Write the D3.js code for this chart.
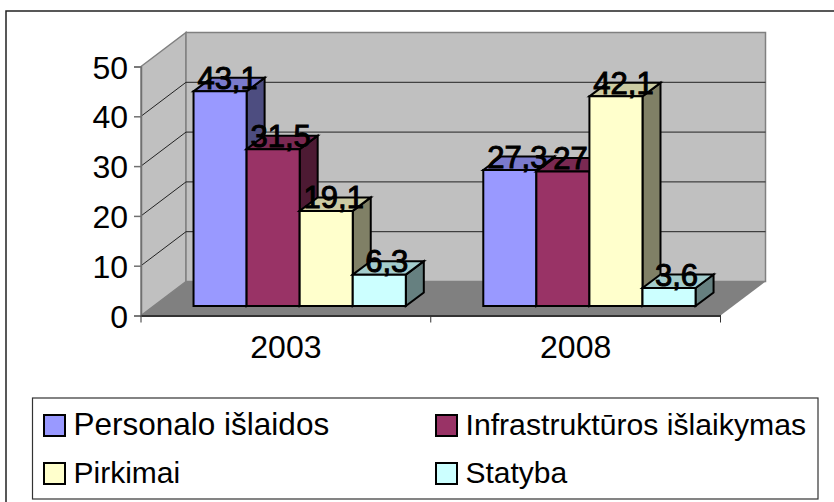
<!DOCTYPE html>
<html>
<head>
<meta charset="utf-8">
<script src="https://cdn.jsdelivr.net/npm/d3@7/dist/d3.min.js"></script>
<style>
html, body { margin: 0; padding: 0; background: #fff; }
text { font-family: "Liberation Sans", Arial, sans-serif; fill: #000; }
</style>
</head>
<body>
<div id="chart"></div>
<script>
var categories = ["2003", "2008"];
var seriesNames = ["Personalo išlaidos", "Infrastruktūros išlaikymas", "Pirkimai", "Statyba"];
var values2003 = [43.1, 31.5, 19.1, 6.3];
var values2008 = [27.3, 27, 42.1, 3.6];
var yTicks = [0, 10, 20, 30, 40, 50];

var fronts = ["#9999ff", "#993366", "#ffffcc", "#ccffff"];
var tops = ["#7a7acc", "#7a2952", "#cccca3", "#a3cccc"];
var sides = ["#4d4d80", "#4d1a33", "#808066", "#668080"];
// the first legend entry is set a bit wider in the picture
var legendSizes = [31.5, 30.2, 30, 30];

var width = 834, height = 502;

// plot box, back wall is the front box moved by depth
var plot = {left: 141, right: 720.5, top: 66.5, bottom: 315.5};
var depth = {x: 45, y: -34};
var barDepth = {x: 18, y: -13.5};
var barShift = {x: 13.8, y: -9.5};

var svg = d3.select("#chart").append("svg")
    .attr("width", width)
    .attr("height", height)
    .style("display", "block");

var x0 = d3.scaleBand()
    .domain(categories)
    .range([plot.left, plot.right]);

var x1 = d3.scaleBand()
    .domain(seriesNames)
    .range([0, x0.bandwidth()])
    .paddingOuter(0.73);

var y = d3.scaleLinear()
    .domain([0, 50])
    .range([plot.bottom, plot.top]);

var line = d3.line();

function poly(points, fill, stroke, sw) {
    return svg.append("path")
        .attr("d", line(points) + "Z")
        .attr("fill", fill)
        .attr("stroke", stroke || "none")
        .attr("stroke-width", sw || 0)
        .attr("stroke-linejoin", "miter");
}

// outer frame, its right and bottom edges are cut off by the picture
svg.append("rect")
    .attr("x", 6).attr("y", 11)
    .attr("width", 840).attr("height", 500)
    .attr("fill", "#fff").attr("stroke", "#222").attr("stroke-width", 1.5);

// walls and floor
var y50 = y(50), y0 = y(0);
poly([[plot.left, y50], [plot.left + depth.x, y50 + depth.y], [plot.left + depth.x, y0 + depth.y], [plot.left, y0]], "#c0c0c0", "#808080", 1.5);
poly([[plot.left + depth.x, y50 + depth.y], [plot.right + depth.x, y50 + depth.y], [plot.right + depth.x, y0 + depth.y], [plot.left + depth.x, y0 + depth.y]], "#c0c0c0", "#808080", 1.5);
poly([[plot.left, y0], [plot.left + depth.x, y0 + depth.y], [plot.right + depth.x, y0 + depth.y], [plot.right, y0]], "#808080");

// gridlines run along the side wall and the back wall
yTicks.filter(function(d) { return d > 0 && d < 50; }).forEach(function(d) {
    svg.append("path")
        .attr("d", line([[plot.left, y(d)], [plot.left + depth.x, y(d) + depth.y], [plot.right + depth.x, y(d) + depth.y]]))
        .attr("fill", "none")
        .attr("stroke", "#222")
        .attr("stroke-width", 1);
});

// axes
var yAxis = d3.axisLeft(y).tickValues(yTicks).tickSize(7).tickPadding(6);
var gy = svg.append("g")
    .attr("transform", "translate(" + plot.left + ",0)")
    .call(yAxis);
gy.selectAll("path, line").attr("stroke", "#707070").attr("stroke-width", 1.5);
gy.selectAll("text").style("font-size", "32px").attr("fill", "#000").attr("dy", "0.36em");

var xAxis = d3.axisBottom(x0).tickSize(0).tickPadding(20);
var gx = svg.append("g")
    .attr("transform", "translate(0," + plot.bottom + ")")
    .call(xAxis);
gx.select(".domain").attr("stroke", "#333").attr("stroke-width", 2);
gx.selectAll("text").style("font-size", "32px").attr("fill", "#000");

[plot.left, x0("2008"), plot.right].forEach(function(px) {
    svg.append("line")
        .attr("x1", px).attr("x2", px)
        .attr("y1", plot.bottom).attr("y2", plot.bottom + 7)
        .attr("stroke", "#333");
});

// bars, each series drawn left to right so later bars cover earlier sides
var rows = [values2003, values2008];
rows.forEach(function(vals, c) {
    var cat = categories[c];
    vals.forEach(function(v, i) {
        var left = x0(cat) + x1(seriesNames[i]) + barShift.x;
        var right = left + x1.bandwidth();
        var yb = y(0) + barShift.y;
        var yt = y(v) + barShift.y;
        poly([[right, yb], [right + barDepth.x, yb + barDepth.y], [right + barDepth.x, yt + barDepth.y], [right, yt]], sides[i], "#000", 2);
        poly([[left, yt], [left + barDepth.x, yt + barDepth.y], [right + barDepth.x, yt + barDepth.y], [right, yt]], tops[i], "#000", 2);
        poly([[left, yb], [left, yt], [right, yt], [right, yb]], fronts[i], "#000", 2);
    });
});

// value labels go on top of every bar
rows.forEach(function(vals, c) {
    var cat = categories[c];
    vals.forEach(function(v, i) {
        var left = x0(cat) + x1(seriesNames[i]) + barShift.x;
        svg.append("text")
            .attr("x", left + x1.bandwidth() / 2 + 7.5)
            .attr("y", y(v) + barShift.y - 2.5)
            .attr("text-anchor", "middle")
            .style("font-size", "31px")
            .style("stroke", "#000")
            .style("stroke-width", 1)
            .text(String(v).replace(".", ","));
    });
});

// legend
svg.append("rect")
    .attr("x", 32.5).attr("y", 398)
    .attr("width", 785.5).attr("height", 101)
    .attr("fill", "#fff").attr("stroke", "#333").attr("stroke-width", 1.2);

var legendX = d3.scalePoint().domain([0, 1]).range([44, 436]);
var legendY = d3.scalePoint().domain([0, 1]).range([435, 483]);

seriesNames.forEach(function(name, i) {
    var lx = legendX(i % 2), ly = legendY(Math.floor(i / 2));
    svg.append("rect")
        .attr("x", lx).attr("y", ly - 20)
        .attr("width", 21).attr("height", 21)
        .attr("fill", fronts[i]).attr("stroke", "#000").attr("stroke-width", 2);
    svg.append("text")
        .attr("x", lx + 29.5)
        .attr("y", ly)
        .style("font-size", legendSizes[i] + "px")
        .text(name);
});
</script>
</body>
</html>
